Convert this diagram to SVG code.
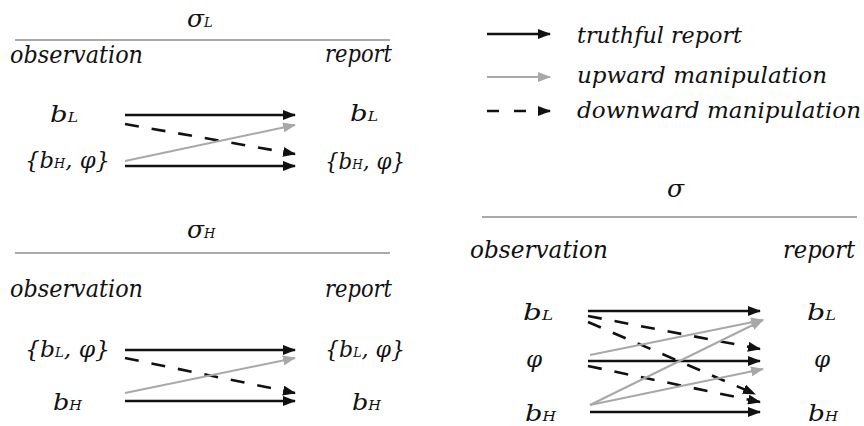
<svg xmlns="http://www.w3.org/2000/svg" width="864" height="426" viewBox="0 0 864 426">
<defs>
<marker id="hb" markerUnits="userSpaceOnUse" markerWidth="13" markerHeight="10" refX="12" refY="5" orient="auto"><path d="M0,0 L13,5 L0,10 z" fill="#111"/></marker>
<marker id="hg" markerUnits="userSpaceOnUse" markerWidth="13" markerHeight="10" refX="12" refY="5" orient="auto"><path d="M0,0 L13,5 L0,10 z" fill="#a8a8a8"/></marker>
<style>
text{font-family:"DejaVu Serif","Liberation Serif",serif;font-style:italic;fill:#111}
.hd{font-size:25px}
.nd{font-size:23px}
.lg{font-size:23px}
.ttl{font-size:25px}
.sub{font-size:13px}
.rule{stroke:#8c8c8c;stroke-width:1.3}
.t{stroke:#111;stroke-width:2.6;fill:none;marker-end:url(#hb)}
.u{stroke:#a8a8a8;stroke-width:2;fill:none;marker-end:url(#hg)}
.d{stroke:#111;stroke-width:2.6;fill:none;stroke-dasharray:14 13;marker-end:url(#hb)}
</style>
</defs>
<rect width="864" height="426" fill="#fff"/>

<g id="panel-sigmaL">
<text class="ttl" x="187" y="27">σ<tspan class="sub">L</tspan></text>
<line class="rule" x1="15" y1="40" x2="390" y2="40"/>
<text class="hd" x="10" y="63" textLength="133" lengthAdjust="spacingAndGlyphs">observation</text>
<text class="hd" x="325" y="62" textLength="67" lengthAdjust="spacingAndGlyphs">report</text>
</g>
<g id="L-obs-bL"><text class="nd" x="50" y="122" textLength="28" lengthAdjust="spacingAndGlyphs">b<tspan class="sub">L</tspan></text></g>
<g id="L-obs-bHphi"><text class="nd" x="25" y="168" textLength="85" lengthAdjust="spacingAndGlyphs">{b<tspan class="sub">H</tspan>, φ}</text></g>
<g id="L-rep-bL"><text class="nd" x="350" y="121" textLength="28" lengthAdjust="spacingAndGlyphs">b<tspan class="sub">L</tspan></text></g>
<g id="L-rep-bHphi"><text class="nd" x="325" y="169" textLength="80" lengthAdjust="spacingAndGlyphs">{b<tspan class="sub">H</tspan>, φ}</text></g>

<g id="panel-sigmaH">
<text class="ttl" x="187" y="238">σ<tspan class="sub">H</tspan></text>
<line class="rule" x1="15" y1="253" x2="390" y2="253"/>
<text class="hd" x="10" y="297" textLength="133" lengthAdjust="spacingAndGlyphs">observation</text>
<text class="hd" x="325" y="297" textLength="67" lengthAdjust="spacingAndGlyphs">report</text>
</g>
<g id="H-obs-bLphi"><text class="nd" x="25" y="357" textLength="85" lengthAdjust="spacingAndGlyphs">{b<tspan class="sub">L</tspan>, φ}</text></g>
<g id="H-obs-bH"><text class="nd" x="53" y="410" textLength="29" lengthAdjust="spacingAndGlyphs">b<tspan class="sub">H</tspan></text></g>
<g id="H-rep-bLphi"><text class="nd" x="325" y="357" textLength="80" lengthAdjust="spacingAndGlyphs">{b<tspan class="sub">L</tspan>, φ}</text></g>
<g id="H-rep-bH"><text class="nd" x="352" y="410" textLength="29" lengthAdjust="spacingAndGlyphs">b<tspan class="sub">H</tspan></text></g>

<g id="panel-sigma">
<text class="ttl" x="667" y="197">σ</text>
<line class="rule" x1="482" y1="217" x2="857" y2="217"/>
<text class="hd" x="470" y="258" textLength="138" lengthAdjust="spacingAndGlyphs">observation</text>
<text class="hd" x="783" y="258" textLength="72" lengthAdjust="spacingAndGlyphs">report</text>
</g>
<g id="S-obs-bL"><text class="nd" x="523" y="320" textLength="30" lengthAdjust="spacingAndGlyphs">b<tspan class="sub">L</tspan></text></g>
<g id="S-obs-phi"><text class="nd" x="526" y="367">φ</text></g>
<g id="S-obs-bH"><text class="nd" x="525" y="421" textLength="31" lengthAdjust="spacingAndGlyphs">b<tspan class="sub">H</tspan></text></g>
<g id="S-rep-bL"><text class="nd" x="807" y="320" textLength="29" lengthAdjust="spacingAndGlyphs">b<tspan class="sub">L</tspan></text></g>
<g id="S-rep-phi"><text class="nd" x="814" y="367">φ</text></g>
<g id="S-rep-bH"><text class="nd" x="808" y="421" textLength="30" lengthAdjust="spacingAndGlyphs">b<tspan class="sub">H</tspan></text></g>

<g id="legend">
<line class="t" x1="487" y1="34" x2="550" y2="34"/>
<text class="lg" x="577" y="43" textLength="165" lengthAdjust="spacingAndGlyphs">truthful report</text>
<line class="u" x1="487" y1="77" x2="550" y2="77"/>
<text class="lg" x="577" y="83" textLength="250" lengthAdjust="spacingAndGlyphs">upward manipulation</text>
<line class="d" x1="487" y1="111" x2="550" y2="111" style="stroke-dasharray:12 15"/>
<text class="lg" x="577" y="118" textLength="284" lengthAdjust="spacingAndGlyphs">downward manipulation</text>
</g>

<g id="connectors">
<line class="t" x1="125" y1="115" x2="295" y2="115"/>
<line class="d" x1="125" y1="124" x2="295" y2="154"/>
<line class="u" x1="125" y1="161" x2="295" y2="125"/>
<line class="t" x1="125" y1="166" x2="295" y2="166"/>

<line class="t" x1="125" y1="350" x2="295" y2="350"/>
<line class="d" x1="125" y1="358" x2="295" y2="393"/>
<line class="u" x1="125" y1="393" x2="295" y2="358"/>
<line class="t" x1="125" y1="401" x2="295" y2="401"/>

<line class="t" x1="588" y1="311" x2="760" y2="311"/>
<line class="d" x1="588" y1="316" x2="760" y2="349"/>
<line class="d" x1="588" y1="322" x2="755" y2="394"/>
<line class="u" x1="590" y1="355" x2="763" y2="320"/>
<line class="t" x1="588" y1="361" x2="760" y2="361"/>
<line class="d" x1="588" y1="366" x2="760" y2="402"/>
<line class="u" x1="590" y1="405" x2="763" y2="320"/>
<line class="u" x1="590" y1="405" x2="763" y2="369"/>
<line class="t" x1="590" y1="412" x2="760" y2="412"/>
</g>
</svg>
